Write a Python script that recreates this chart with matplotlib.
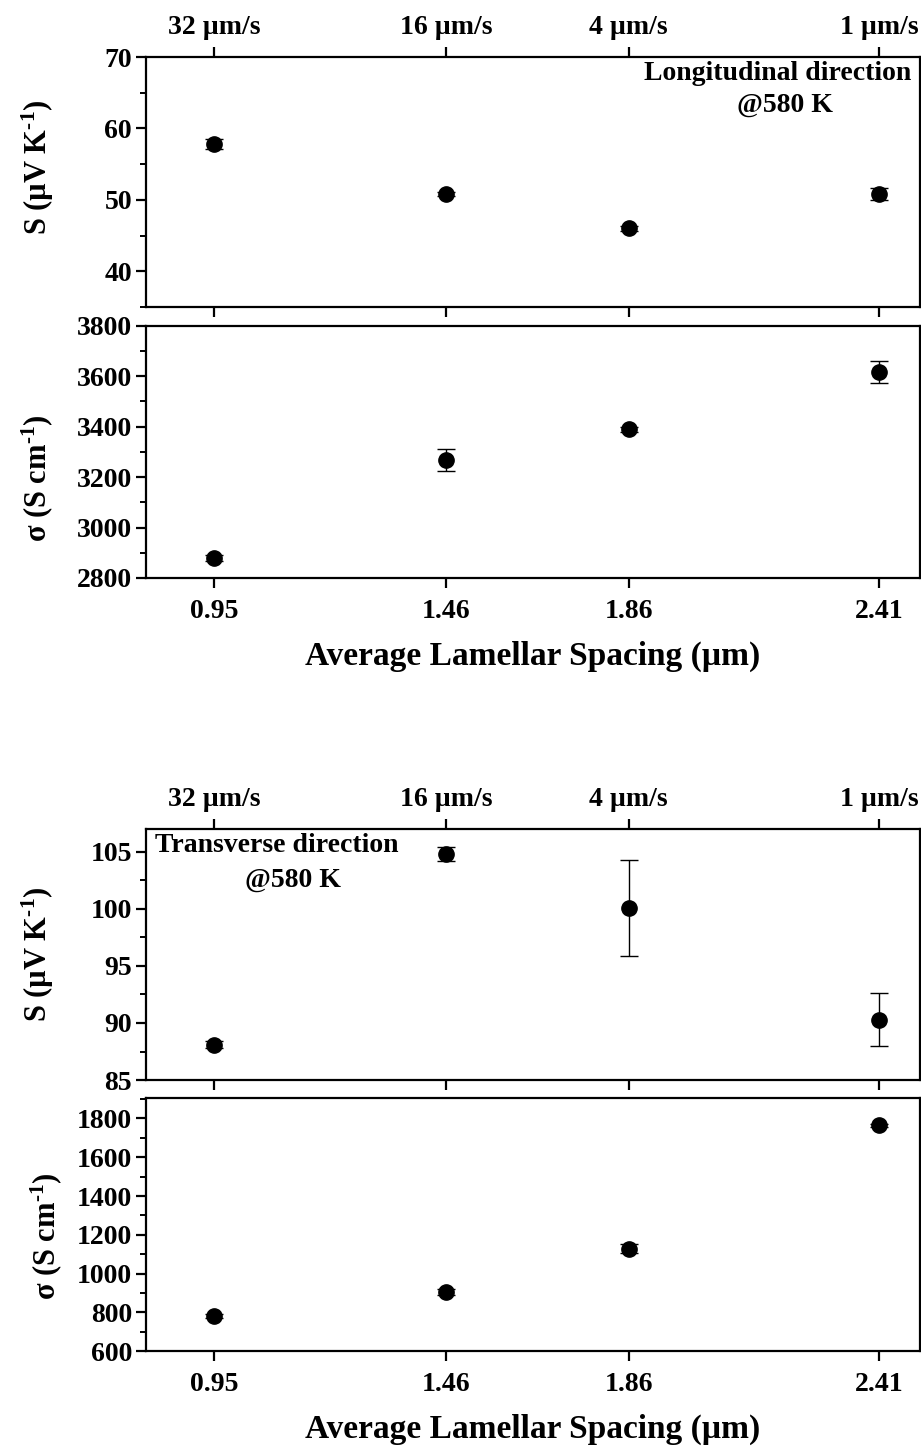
import numpy as np
import matplotlib
matplotlib.use("Agg")
import matplotlib.pyplot as plt
from matplotlib.ticker import MultipleLocator

plt.rcParams['font.family'] = ['Liberation Serif', 'DejaVu Serif']
plt.rcParams['font.weight'] = 'bold'
plt.rcParams['mathtext.fontset'] = 'custom'
plt.rcParams['mathtext.rm'] = 'Liberation Serif:bold'
plt.rcParams['mathtext.default'] = 'rm'

# data
spacing = [0.95, 1.46, 1.86, 2.41]
spacing_labels = ['0.95', '1.46', '1.86', '2.41']
rate_labels = ['32 µm/s', '16 µm/s', '4 µm/s', '1 µm/s']

long_S = [57.8, 50.8, 46.0, 50.8]
long_S_err = [0.7, 0.3, 0.3, 0.8]
long_sigma = [2880, 3267, 3390, 3617]
long_sigma_err = [12, 44, 10, 43]

trans_S = [88.1, 104.8, 100.1, 90.3]
trans_S_err = [0.3, 0.6, 4.2, 2.35]
trans_sigma = [781, 904, 1128, 1766]
trans_sigma_err = [10, 15, 22, 8]

fig = plt.figure(figsize=(9.21, 14.47), dpi=100)

left, width = 0.1585, 0.8404
ax_ls = fig.add_axes([left, 0.7878, width, 0.1728])
ax_lc = fig.add_axes([left, 0.6006, width, 0.1742])
ax_ts = fig.add_axes([left, 0.2536, width, 0.1735])
ax_tc = fig.add_axes([left, 0.0663, width, 0.1748])


def style(ax, ylim, major, minor):
    ax.set_xlim(0.80, 2.50)
    ax.set_ylim(*ylim)
    ax.yaxis.set_major_locator(MultipleLocator(major))
    ax.yaxis.set_minor_locator(MultipleLocator(minor))
    ax.set_xticks(spacing)
    for s in ax.spines.values():
        s.set_linewidth(1.6)
    ax.tick_params(axis='both', which='major', direction='out', length=7, width=1.6,
                   labelsize=20)
    ax.tick_params(axis='y', which='minor', direction='out', length=4, width=1.4)
    ax.tick_params(axis='y', right=False, pad=3)


def points(ax, y, yerr):
    ax.errorbar(spacing, y, yerr=yerr, fmt='o', color='black', markersize=11,
                ecolor='black', elinewidth=1.0, capsize=6.5, capthick=1.0)


# seebeck panels, top axis shows growth rate
for ax, y, yerr, ylim, major, minor, ypos in [
        (ax_ls, long_S, long_S_err, (35, 70), 10, 5, 0.56),
        (ax_ts, trans_S, trans_S_err, (85, 107), 5, 2.5, 0.5)]:
    style(ax, ylim, major, minor)
    points(ax, y, yerr)
    ax.set_xticklabels(rate_labels)
    ax.tick_params(axis='x', top=True, labeltop=True, bottom=True, labelbottom=False, pad=5)
    ax.set_ylabel(r'S (µV K$^{\text{-}1}$)', fontsize=22, fontweight='bold')
    ax.yaxis.set_label_coords(-0.116, ypos)

# conductivity panels
for ax, y, yerr, ylim, major, minor, lx, ly in [
        (ax_lc, long_sigma, long_sigma_err, (2800, 3800), 200, 100, -0.118, 0.395),
        (ax_tc, trans_sigma, trans_sigma_err, (600, 1905), 200, 100, -0.106, 0.455)]:
    style(ax, ylim, major, minor)
    points(ax, y, yerr)
    ax.set_xticklabels(spacing_labels)
    ax.tick_params(axis='x', top=False, bottom=True, labelbottom=True, pad=8)
    ax.set_ylabel(r'σ (S cm$^{\text{-}1}$)', fontsize=22, fontweight='bold')
    ax.yaxis.set_label_coords(lx, ly)
    ax.set_xlabel('Average Lamellar Spacing (µm)', fontsize=24, fontweight='bold',
                  labelpad=12)

ax_ls.text(0.8165, 0.936, 'Longitudinal direction', transform=ax_ls.transAxes,
           ha='center', va='center', fontsize=20, fontweight='bold')
ax_ls.text(0.8256, 0.808, '@580 K', transform=ax_ls.transAxes,
           ha='center', va='center', fontsize=20, fontweight='bold')
ax_ts.text(0.169, 0.936, 'Transverse direction', transform=ax_ts.transAxes,
           ha='center', va='center', fontsize=20, fontweight='bold')
ax_ts.text(0.190, 0.797, '@580 K', transform=ax_ts.transAxes,
           ha='center', va='center', fontsize=20, fontweight='bold')

plt.savefig('out.png', dpi=100)
